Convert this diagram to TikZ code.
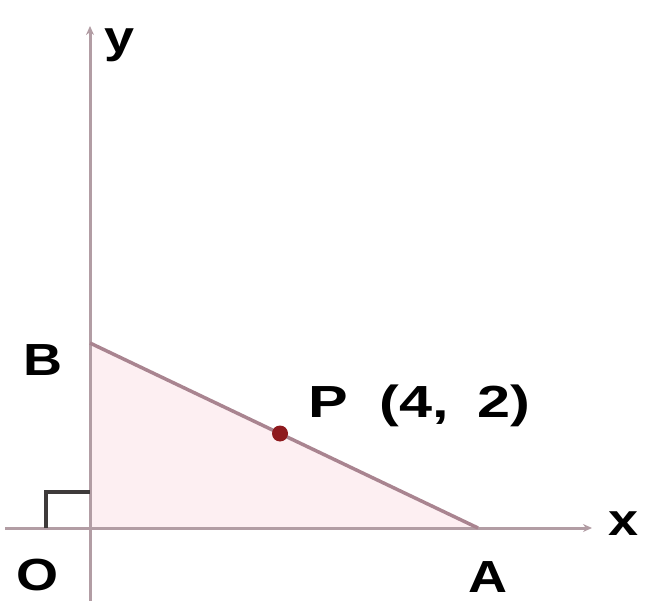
\documentclass[tikz,border=0pt]{standalone}
\usepackage{fontspec}
\setmainfont{Liberation Sans}
\usetikzlibrary{arrows.meta}
\definecolor{axiscol}{HTML}{B29DA4}
\definecolor{abcol}{HTML}{A98490}
\definecolor{fillcol}{HTML}{FDEFF2}
\definecolor{ptcol}{HTML}{8E1A1E}
\definecolor{markcol}{HTML}{3E3A3A}
\tikzset{
  axis/.style={draw=axiscol, line width=3pt, -{Stealth[length=9pt,width=8pt]}},
  lbl/.style={font=\fontsize{45}{50}\bfseries\selectfont, text=black, inner sep=0pt, xscale=1.2},
}
\begin{document}
\begin{tikzpicture}[x=1pt,y=-1pt]
\useasboundingbox (0,0) rectangle (645,601);
\coordinate (O) at (90,528);
\coordinate (A) at (478,528);
\coordinate (B) at (90,343);
\coordinate (P) at (280,433.5);
\coordinate (xs) at (5,528);
\coordinate (xe) at (592,528);
\coordinate (ys) at (90,601);
\coordinate (ye) at (90,26);
\coordinate (m1) at (46,528);
\coordinate (m2) at (46,492);
\coordinate (m3) at (90,492);
% triangle fill
\fill[fillcol] (O) -- (A) -- (B) -- cycle;
% axes
\draw[axis] (xs) -- (xe);
\draw[axis] (ys) -- (ye);
% hypotenuse
\draw[abcol, line width=3.5pt] (B) -- (A);
% right-angle mark
\draw[markcol, line width=3.5pt] (m1) -- (m2) -- (m3);
% point P
\fill[ptcol] (P) circle (8);
% labels
\node[lbl] (ylab) at (120,45) {y};
\node[lbl] (xlab) at (624,524) {x};
\node[lbl] (Blab) at (43,360) {B};
\node[lbl] (Olab) at (38,575) {O};
\node[lbl] (Alab) at (488,577) {A};
\node[lbl, anchor=west, xscale=1.1] (Plab) at (308,406) {P\hspace{24pt}(4,\hspace{22pt}2)};
\end{tikzpicture}
\end{document}
